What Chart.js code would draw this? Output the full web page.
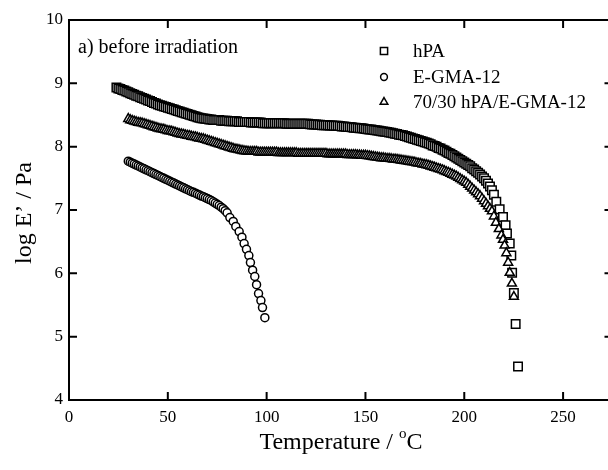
<!DOCTYPE html>
<html><head><meta charset="utf-8">
<script src="https://cdn.jsdelivr.net/npm/chart.js@4.4.1/dist/chart.umd.min.js"></script>
<style>
html,body{margin:0;padding:0;background:#fff;overflow:hidden;}
#wrap{position:relative;width:620px;height:470px;}
</style></head><body>
<div id="wrap"><canvas id="c"></canvas></div>
<script>
const xTicks = [0, 50, 100, 150, 200, 250];
const yTicks = [4, 5, 6, 7, 8, 9, 10];
const seriesNames = ['hPA', 'E-GMA-12', '70/30 hPA/E-GMA-12'];
const panelLabel = 'a) before irradiation';

const hpaT = [24,25,26,27,28,29,30,31,32,33,34,35,36,37,38,39,40,41,42,43,44,45,46,47,48,49,50,51,52,53,54,55,56,57,58,59,60,61,62,63,64,65,66,67,68,69,70,71,72,73,74,75,76,77,78,79,80,81,82,83,84,85,86,87,88,89,90,91,92,93,94,95,96,97,98,99,100,101,102,103,104,105,106,107,108,109,110,111,112,113,114,115,116,117,118,119,120,121,122,123,124,125,126,127,128,129,130,131,132,133,134,135,136,137,138,139,140,141,142,143,144,145,146,147,148,149,150,151,152,153,154,155,156,157,158,159,160,161,162,163,164,165,166,167,168,169,170,171,172,173,174,175,176,177,178,179,180,181,182,183,184,185,186,187,188,189,190,191,192,193,194,195,196,197,198,199,200,201,202,203,204,205,206,207,208,209,210,211,212,213,214,215,216.2,217.9,219.6,220.9,221.6,223,223.8,224.2,225.1,226,227.2];
const hpaE = [8.935,8.92,8.91,8.895,8.885,8.87,8.86,8.845,8.83,8.82,8.805,8.795,8.78,8.77,8.755,8.745,8.73,8.72,8.705,8.69,8.68,8.665,8.655,
8.645,8.635,8.625,8.615,8.605,8.595,8.585,8.575,8.565,8.555,8.545,8.535,8.525,8.515,8.505,8.495,8.485,
8.475,8.465,8.455,8.45,8.445,8.44,8.435,
8.43,8.43,8.42,8.42,8.42,8.42,8.41,8.41,8.41,8.41,
8.40,8.40,8.40,8.40,8.40,8.39,8.39,8.39,8.39,8.39,8.39,8.38,8.38,8.38,8.38,8.38,8.38,
8.37,8.37,8.37,8.37,8.37,8.37,8.37,8.37,8.37,8.37,8.37,8.37,8.36,8.36,8.36,8.36,8.36,8.36,8.36,8.36,8.36,8.36,8.36,
8.36,8.355,8.35,8.35,8.35,8.345,8.345,8.34,8.34,8.34,8.34,8.335,8.335,8.33,8.33,8.33,8.325,
8.32,8.32,8.315,8.31,8.31,8.305,8.30,8.30,8.295,8.29,8.29,8.285,8.28,8.275,8.27,8.27,8.265,8.26,8.255,8.25,
8.245,8.24,8.235,8.23,8.225,8.22,8.21,8.205,8.20,8.19,8.185,8.18,8.17,8.16,8.15,8.14,8.13,8.12,8.11,8.10,8.09,8.08,8.07,8.06,8.05,8.04,8.02,8.01,8.00,7.98,7.97,7.95,7.94,7.92,7.90,7.89,7.87,7.85,7.83,7.81,7.79,7.77,7.75,7.73,7.71,7.69,7.66,7.64,7.61,7.59,7.56,7.53,7.50,7.46,7.42,7.37,
7.31,7.24,7.13,7.01,6.89,6.76,6.63,6.47,6.28,6.01,5.69,5.20,4.53];

const egmaT = [30,31,32,33,34,35,36,37,38,39,40,41,42,43,44,45,46,47,48,49,50,51,52,53,54,55,56,57,58,59,60,61,62,63,64,65,66,67,68,69,70,71,72,73,74,75,76,77,78,79,80,81.4,83.1,84.4,86.1,87.5,88.6,89.8,91,91.8,92.9,94,94.9,95.9,97.1,97.9,99.1];
const egmaE = [7.77,7.755,7.74,7.725,7.71,7.695,7.68,7.665,7.65,7.635,7.62,7.605,7.59,7.575,7.56,7.545,7.53,7.515,7.50,7.485,7.47,7.455,7.44,7.425,7.41,7.395,7.38,7.365,7.35,7.335,7.32,7.305,7.29,7.28,7.265,7.25,7.235,7.22,7.21,7.195,7.18,7.165,7.15,7.13,7.11,7.09,7.07,7.045,7.02,6.99,6.955,
6.88,6.82,6.74,6.66,6.57,6.47,6.38,6.28,6.17,6.05,5.95,5.82,5.68,5.57,5.46,5.30];

const blendT = [30,31,32,33,34,35,36,37,38,39,40,41,42,43,44,45,46,47,48,49,50,51,52,53,54,55,56,57,58,59,60,61,62,63,64,65,66,67,68,69,70,71,72,73,74,75,76,77,78,79,80,81,82,83,84,85,86,87,88,89,90,91,92,93,94,95,96,97,98,99,100,101,102,103,104,105,106,107,108,109,110,111,112,113,114,115,116,117,118,119,120,121,122,123,124,125,126,127,128,129,130,131,132,133,134,135,136,137,138,139,140,141,142,143,144,145,146,147,148,149,150,151,152,153,154,155,156,157,158,159,160,161,162,163,164,165,166,167,168,169,170,171,172,173,174,175,176,177,178,179,180,181,182,183,184,185,186,187,188,189,190,191,192,193,194,195,196,197,198,199,200,201,202,203,204,205,206,207,208,209,210,211,212,213,214,215,216,217.5,218.8,219.6,220.4,221.3,222.2,223,224.1,225.1];
const blendE = [8.44,8.42,8.41,8.40,8.39,8.38,8.375,8.37,8.36,8.35,8.34,8.33,8.32,8.31,8.30,8.29,8.28,8.275,8.27,8.26,8.25,8.245,8.24,8.23,8.22,8.21,8.20,8.195,8.19,8.18,8.175,8.17,8.16,8.155,8.15,8.14,8.13,8.125,8.12,8.11,8.10,8.09,8.08,8.07,8.06,8.05,8.04,8.03,8.02,8.01,8.00,7.99,7.98,7.97,7.96,7.955,7.95,7.94,7.935,7.93,7.925,
7.92,7.92,7.92,7.92,7.92,
7.91,7.91,7.91,7.91,7.91,7.91,7.91,7.91,7.91,7.91,
7.90,7.90,7.90,7.90,7.90,7.90,7.90,7.90,7.90,7.90,
7.89,7.89,7.89,7.89,7.89,7.89,7.89,7.89,7.89,7.89,7.89,7.89,7.89,7.89,7.89,
7.88,7.88,7.88,7.88,7.88,7.88,7.88,7.88,7.88,7.88,
7.87,7.87,7.87,7.87,7.87,7.865,7.865,7.86,7.86,
7.86,7.855,7.85,7.845,7.84,7.835,7.83,7.825,7.82,7.82,7.815,7.81,7.81,7.805,7.80,7.80,7.795,7.79,7.785,7.78,7.775,7.77,7.765,7.76,7.755,7.75,7.74,7.735,7.73,7.72,7.715,7.71,7.70,7.69,7.68,7.67,7.66,7.65,7.64,7.63,7.615,7.60,7.59,7.575,7.56,7.545,7.53,7.51,7.49,7.47,7.45,7.43,7.40,7.37,7.34,7.31,7.28,7.25,7.22,7.18,7.14,7.10,7.06,7.02,
6.98,6.90,6.80,6.70,6.60,6.53,6.44,6.32,6.17,6.01,5.84,5.63];

const FONT = "'Liberation Serif','Times New Roman',serif";
Chart.defaults.font.family = FONT;
Chart.defaults.color = '#000';

function pts(T, E) { return T.map((t, i) => ({ x: t, y: E[i] })); }

const styles = [
  { pointStyle: 'rect', pointRadius: 6 },
  { pointStyle: 'circle', pointRadius: 4 },
  { pointStyle: 'triangle', pointRadius: 5.2 }
];
const datas = [pts(hpaT, hpaE), pts(egmaT, egmaE), pts(blendT, blendE)];
const orders = [1, 2, 0];

const datasets = datas.map((d, i) => ({
  label: seriesNames[i],
  data: d,
  showLine: false,
  pointStyle: styles[i].pointStyle,
  pointRadius: styles[i].pointRadius,
  pointHoverRadius: styles[i].pointRadius,
  pointBorderWidth: 1.5,
  borderColor: '#000',
  backgroundColor: '#fff',
  pointBackgroundColor: '#fff',
  pointBorderColor: '#000',
  order: orders[i]
}));

const decor = {
  id: 'decor',
  afterDraw(chart) {
    const { ctx, chartArea: a, scales: { x, y } } = chart;
    ctx.save();
    ctx.strokeStyle = '#000';
    ctx.lineWidth = 2;
    ctx.strokeRect(a.left, a.top, a.right - a.left, a.bottom - a.top);
    ctx.beginPath();
    xTicks.forEach(v => {
      const px = x.getPixelForValue(v);
      ctx.moveTo(px, a.bottom); ctx.lineTo(px, a.bottom - 8);
      ctx.moveTo(px, a.top); ctx.lineTo(px, a.top + 8);
    });
    yTicks.forEach(v => {
      const py = y.getPixelForValue(v);
      ctx.moveTo(a.left, py); ctx.lineTo(a.left + 8, py);
      ctx.moveTo(a.right, py); ctx.lineTo(a.right - 8, py);
    });
    ctx.stroke();

    ctx.fillStyle = '#000';
    // panel label
    ctx.font = '20px ' + FONT;
    ctx.textAlign = 'left';
    ctx.textBaseline = 'alphabetic';
    ctx.fillText(panelLabel, 78, 53);

    // legend
    const lx = 384, ty = [51, 77, 102];
    datasets.forEach((ds, i) => {
      ctx.save();
      ctx.lineWidth = 1.5;
      ctx.strokeStyle = '#000';
      ctx.fillStyle = '#fff';
      Chart.helpers.drawPoint(ctx, { pointStyle: ds.pointStyle, radius: ds.pointRadius * 0.85, borderWidth: 1.5 }, lx, ty[i]);
      ctx.restore();
      ctx.fillStyle = '#000';
      ctx.font = '19px ' + FONT;
      ctx.textAlign = 'left';
      ctx.textBaseline = 'middle';
      ctx.fillText(ds.label, 413, ty[i] + 1);
    });

    // x title with superscript o
    ctx.font = '24px ' + FONT;
    ctx.textBaseline = 'alphabetic';
    const t1 = 'Temperature / ', sup = 'o', t2 = 'C';
    const w1 = ctx.measureText(t1).width, w3 = ctx.measureText(t2).width;
    ctx.font = '15px ' + FONT;
    const w2 = ctx.measureText(sup).width;
    const total = w1 + w2 + w3;
    let sx = 341 - total / 2;
    const base = 449;
    ctx.font = '24px ' + FONT;
    ctx.textAlign = 'left';
    ctx.fillText(t1, sx, base);
    ctx.font = '15px ' + FONT;
    ctx.fillText(sup, sx + w1, base - 11);
    ctx.font = '24px ' + FONT;
    ctx.fillText(t2, sx + w1 + w2, base);

    // y title
    ctx.save();
    ctx.translate(25, 213);
    ctx.rotate(-Math.PI / 2);
    ctx.textAlign = 'center';
    ctx.textBaseline = 'middle';
    ctx.font = '24px ' + FONT;
    ctx.fillText('log E\u2019 / Pa', 0, 0);
    ctx.restore();
    ctx.restore();
  }
};

new Chart(document.getElementById('c'), {
  type: 'scatter',
  data: { datasets },
  options: {
    responsive: true,
    maintainAspectRatio: false,
    animation: false,
    events: [],
    layout: { padding: { top: 20, right: 7, left: 0, bottom: 0 } },
    plugins: { legend: { display: false }, tooltip: { enabled: false } },
    scales: {
      x: {
        type: 'linear', min: 0, max: 275,
        afterBuildTicks: s => { s.ticks = xTicks.map(v => ({ value: v })); },
        afterFit: s => { s.height = 70; },
        grid: { display: false, drawTicks: false },
        border: { display: false },
        ticks: { font: { size: 17, family: FONT }, color: '#000', padding: 7, maxRotation: 0, autoSkip: false }
      },
      y: {
        type: 'linear', min: 4, max: 10,
        afterBuildTicks: s => { s.ticks = yTicks.map(v => ({ value: v })); },
        afterFit: s => { s.width = 69; },
        grid: { display: false, drawTicks: false },
        border: { display: false },
        ticks: { font: { size: 17, family: FONT }, color: '#000', padding: 6, autoSkip: false }
      }
    }
  },
  plugins: [decor]
});
</script>
</body></html>
